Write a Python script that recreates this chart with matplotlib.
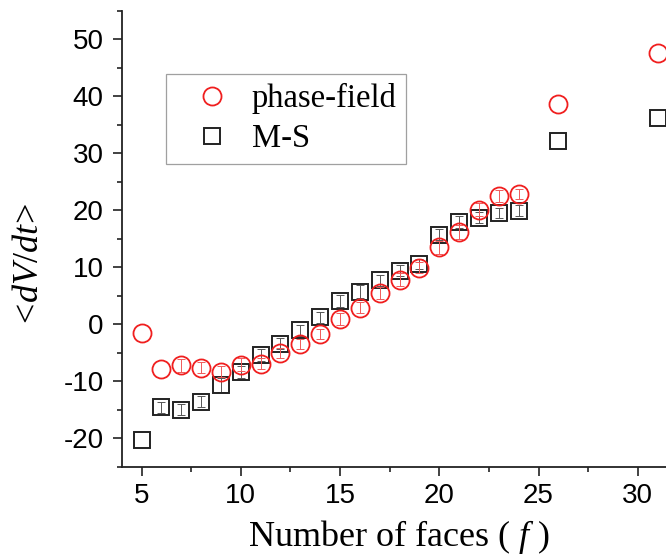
import matplotlib
matplotlib.use("Agg")
import matplotlib.pyplot as plt
from matplotlib.ticker import MultipleLocator

faces = [5, 6, 7, 8, 9, 10, 11, 12, 13, 14, 15, 16, 17, 18, 19, 20, 21, 22, 23, 24, 26, 31]
phase_field = [-1.6, -7.9, -7.2, -7.6, -8.3, -7.1, -6.9, -5.1, -3.5, -1.7, 0.9, 2.9, 5.5, 7.8, 9.9, 13.5, 16.2, 20.1, 22.5, 22.9, 38.6, 47.5]
phase_err = [0, 0, 1.1, 1.0, 1.0, 1.1, 1.0, 0.9, 0.9, 0.9, 1.0, 1.0, 1.1, 1.1, 1.0, 1.1, 1.2, 1.1, 1.0, 0.9, 0, 0]
ms = [-20.3, -14.6, -15.0, -13.6, -10.7, -8.4, -5.4, -3.4, -1.1, 1.2, 4.1, 5.7, 7.7, 9.4, 10.5, 15.7, 17.9, 18.7, 19.5, 19.9, 32.2, 36.1]
ms_err = [0, 1.0, 1.0, 1.0, 1.2, 1.0, 1.0, 1.0, 1.0, 1.0, 1.0, 1.1, 1.0, 1.0, 0.9, 1.0, 1.0, 1.0, 0.9, 1.0, 0, 0]

plt.rcParams['mathtext.fontset'] = 'custom'
plt.rcParams['mathtext.rm'] = 'Liberation Serif'
plt.rcParams['mathtext.it'] = 'Liberation Serif:italic'
plt.rcParams['axes.unicode_minus'] = False

fig = plt.figure(figsize=(6.66, 5.59), dpi=100)
ax = fig.add_axes([0.1827, 0.1651, 0.8173, 0.8158])

red = '#f01e1e'
blk = '#222222'


def with_err(x, y, e):
    idx = [i for i in range(len(x)) if e[i] > 0]
    return [x[i] for i in idx], [y[i] for i in idx], [e[i] for i in idx]


px, py, pe = with_err(faces, phase_field, phase_err)
mx, my, me = with_err(faces, ms, ms_err)

ax.errorbar(mx, my, yerr=me, fmt='none', ecolor='#555555', elinewidth=0.7,
            capsize=3, capthick=0.7, zorder=2)
ax.errorbar(px, py, yerr=pe, fmt='none', ecolor='#f05a5a', elinewidth=0.7,
            capsize=3, capthick=0.7, zorder=3)
h2, = ax.plot(faces, ms, 's', mfc='none', mec=blk, ms=11.5, mew=1.4, label='M-S', zorder=2)
h1, = ax.plot(faces, phase_field, 'o', mfc='none', mec=red, ms=13, mew=1.3,
              label='phase-field', zorder=3)

ax.set_xlim(4, 31.42)
ax.set_ylim(-25, 55)
ax.xaxis.set_major_locator(MultipleLocator(5))
ax.xaxis.set_minor_locator(MultipleLocator(2.5))
ax.yaxis.set_major_locator(MultipleLocator(10))
ax.yaxis.set_minor_locator(MultipleLocator(5))

for s in ['top', 'right']:
    ax.spines[s].set_visible(False)
for s in ['left', 'bottom']:
    ax.spines[s].set_linewidth(1.3)
    ax.spines[s].set_color('#222222')

ax.tick_params(which='major', direction='out', length=6.5, width=1.2, color='#222222')
ax.tick_params(which='minor', direction='out', length=3.8, width=1.2, color='#222222')
ax.tick_params(axis='y', which='major', pad=6.5)
ax.tick_params(axis='x', which='major', pad=5.5)
for lab in ax.get_xticklabels() + ax.get_yticklabels():
    lab.set_fontfamily('Liberation Sans')
    lab.set_fontsize(20)

ax.set_xlabel(r'Number of faces ( $f$ )', fontfamily='Liberation Serif', fontsize=26)
ax.xaxis.set_label_coords(0.509, -0.112)
ax.set_ylabel(r'$\mathrm{<}\!dV/dt\!\mathrm{>}$', fontsize=26)
ax.yaxis.set_label_coords(-0.141, 0.44)

leg = ax.legend(handles=[h1, h2], loc='upper left', bbox_to_anchor=(166/666, 1 - 74/559),
                bbox_transform=fig.transFigure,
                prop={'family': 'Liberation Serif', 'size': 23.5}, frameon=True, fancybox=False,
                borderpad=0.28, handlelength=2.24, handletextpad=0.1, labelspacing=0.3,
                edgecolor='#888888', borderaxespad=0)
leg.get_frame().set_linewidth(0.9)

fig.savefig('out.png', dpi=100)
